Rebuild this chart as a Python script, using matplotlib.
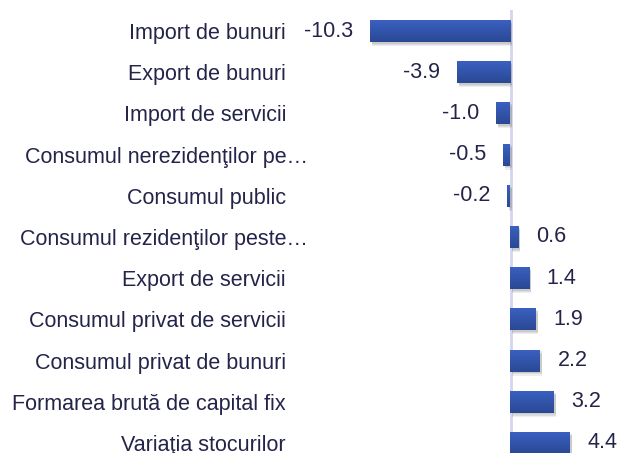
import matplotlib
matplotlib.use("Agg")
import matplotlib.pyplot as plt
import matplotlib.transforms as mtransforms
import numpy as np

categories = ["Import de bunuri", "Export de bunuri", "Import de servicii",
              "Consumul nerezidenţilor pe…", "Consumul public",
              "Consumul rezidenţilor peste…", "Export de servicii",
              "Consumul privat de servicii", "Consumul privat de bunuri",
              "Formarea brută de capital fix", "Variaţia stocurilor"]
values = [-10.3, -3.9, -1.0, -0.5, -0.2, 0.6, 1.4, 1.9, 2.2, 3.2, 4.4]

plt.rcParams["font.family"] = ["Liberation Sans", "DejaVu Sans"]
txt = "#24244a"
fs = 15.5

fig = plt.figure(figsize=(6.19, 4.53), dpi=100)
ax = fig.add_axes([300 / 619, 0, 319 / 619, 1 - 10 / 453])

y = np.arange(len(values))
h = 0.53
grad = np.linspace(0, 1, 64).reshape(-1, 1)
cmap = matplotlib.colors.LinearSegmentedColormap.from_list("g", ["#3a60c0", "#2a4894"])
for yi, v in zip(y, values):
    # soft shadow under each bar
    for k, a in [(0.10, 0.12), (0.07, 0.15), (0.04, 0.18)]:
        ax.barh(yi + k, v, height=h, left=0.15, color="#7a7a7a", alpha=a, zorder=1, linewidth=0)
    b = ax.barh(yi, v, height=h, color="#3355aa", zorder=2, linewidth=0)[0]
    x0, x1 = sorted([0, v])
    im = ax.imshow(grad, cmap=cmap, aspect="auto", extent=(x0, x1, yi + h / 2, yi - h / 2), zorder=3)
    im.set_clip_path(b)
    if v < 0:
        ax.text(v - 1.25, yi, f"{v:.1f}", ha="right", va="center", fontsize=fs, color=txt)
    else:
        ax.text(v + 1.3, yi, f"{v:.1f}", ha="left", va="center", fontsize=fs, color=txt)

ax.set_xlim(-15.44, 8.01)
ax.set_ylim(10.243, -0.51)
ax.axvline(0.05, color="#d4d4ec", linewidth=2, zorder=0)
ax.set_yticks(y)
ax.set_yticklabels(categories, fontsize=fs, color=txt)
ax.tick_params(axis="y", length=0, pad=10)
ax.set_xticks([])
for s in ax.spines.values():
    s.set_visible(False)

# truncated labels sit a bit further right, like in the original
for lab in ax.get_yticklabels():
    if lab.get_text().endswith("…"):
        lab.set_transform(lab.get_transform() + mtransforms.ScaledTranslation(22 / 100, 0, fig.dpi_scale_trans))

fig.savefig("out.png", dpi=100)
